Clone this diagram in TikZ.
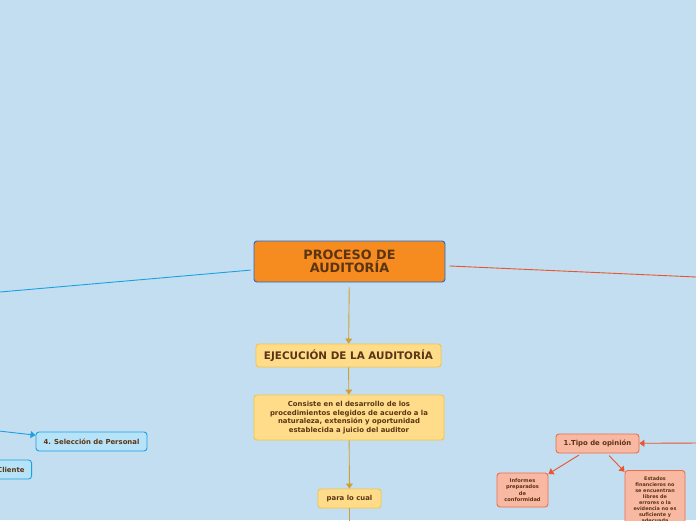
\documentclass[tikz,border=0pt]{standalone}
\usepackage{fontspec}
\setmainfont{DejaVu Sans}
\usetikzlibrary{arrows.meta}

\definecolor{fondo}{HTML}{C2DEF0}
\definecolor{texto}{HTML}{5B3414}
\definecolor{naranja}{HTML}{F68B1F}
\definecolor{borderaiz}{HTML}{2169CF}
\definecolor{amarillo}{HTML}{FFDC8A}
\definecolor{bordeamarillo}{HTML}{F6C344}
\definecolor{lineaamarilla}{HTML}{D2A030}
\definecolor{celeste}{HTML}{B6E3F8}
\definecolor{azul}{HTML}{1BA1E2}
\definecolor{salmon}{HTML}{F8B8A2}
\definecolor{rojo}{HTML}{E9552C}

\tikzset{
  caja/.style={rounded corners=3pt, line width=0.9pt, align=center,
    text=texto, font=\bfseries, inner sep=2pt},
  raiz/.style={caja, fill=naranja, draw=borderaiz,
    minimum width=191pt, minimum height=41pt, font=\bfseries\fontsize{12.8}{13.5}\selectfont},
  ejec/.style={caja, fill=amarillo, draw=bordeamarillo},
  rama/.style={caja, fill=celeste, draw=azul, minimum height=19pt, inner xsep=7pt,
    font=\bfseries\fontsize{6.9}{7.5}\selectfont},
  opinion/.style={caja, fill=salmon, draw=rojo!85},
  flecha/.style={line width=0.9pt, -{Triangle[width=7pt,length=5pt]}},
}

\begin{document}
\begin{tikzpicture}[x=1pt,y=-1pt]
\useasboundingbox (0,0) rectangle (696,520);
\clip (0,0) rectangle (696,520);
\fill[fondo] (0,0) rectangle (696,520);

% nodo central
\node[raiz] (proceso) at (349.5,261.5) {PROCESO DE\\AUDITORÍA};

% ejecucion
\node[ejec, minimum width=185pt, minimum height=23pt,
  font=\bfseries\fontsize{10.4}{11}\selectfont] (ejecucion) at (348.5,355.5) {EJECUCIÓN DE LA AUDITORÍA};
\node[ejec, minimum width=190pt, minimum height=45pt,
  font=\bfseries\fontsize{6.9}{8.7}\selectfont] (consiste) at (349,417.5)
  {Consiste en el desarrollo de los\\procedimientos elegidos de acuerdo a la\\naturaleza, extensión y oportunidad\\establecida a juicio del auditor};
\node[ejec, minimum width=63pt, minimum height=19pt,
  font=\bfseries\fontsize{6.9}{7.5}\selectfont] (paracual) at (349.5,498.5) {para lo cual};

% ramas izquierdas
\node[rama, minimum width=111pt] (personal) at (91.5,441.5) {4. Selección de Personal};
\node[rama, anchor=east] (cliente) at (32,469.5) {Cliente};

% tipo de opinion
\node[opinion, minimum width=83pt, minimum height=19pt,
  font=\bfseries\fontsize{6.9}{7.5}\selectfont] (tipo) at (597.5,443.5) {1.Tipo de opinión};
\node[opinion, minimum width=51pt, minimum height=34pt,
  font=\bfseries\fontsize{5.1}{6.3}\selectfont] (informes) at (522.5,490)
  {Informes\\preparados\\de\\conformidad};
\node[opinion, minimum width=60pt, minimum height=66pt, anchor=north,
  font=\bfseries\fontsize{4.9}{6.1}\selectfont] (estados) at (655,470)
  {\\[-4pt]Estados\\financieros no\\se encuentran\\libres de\\errores o la\\evidencia no es\\suficiente y\\adecuada\\ };

% puntos sueltos
\coordinate (izq) at (0,292);
\coordinate (der) at (696,277);
\coordinate (izqsel) at (-10,430);
\coordinate (dertipo) at (700,443);
\coordinate (abajo) at (349.5,530);

% conectores
\draw[azul, line width=0.9pt, shorten <=3pt] (proceso) -- (izq);
\draw[rojo, line width=0.9pt, shorten <=4pt] (proceso) -- (der);
\draw[flecha, lineaamarilla, shorten <=5pt] (proceso) -- (ejecucion);
\draw[flecha, lineaamarilla] (ejecucion) -- (consiste);
\draw[flecha, lineaamarilla] (consiste) -- (paracual);
\draw[lineaamarilla, line width=0.9pt] (paracual) -- (abajo);
\draw[flecha, azul] (izqsel) -- (personal);
\draw[flecha, rojo] (dertipo) -- (tipo);
\draw[flecha, rojo, shorten <=3pt] (tipo) -- (informes);
\draw[flecha, rojo, shorten <=3pt] (tipo) -- (estados);
\end{tikzpicture}
\end{document}
